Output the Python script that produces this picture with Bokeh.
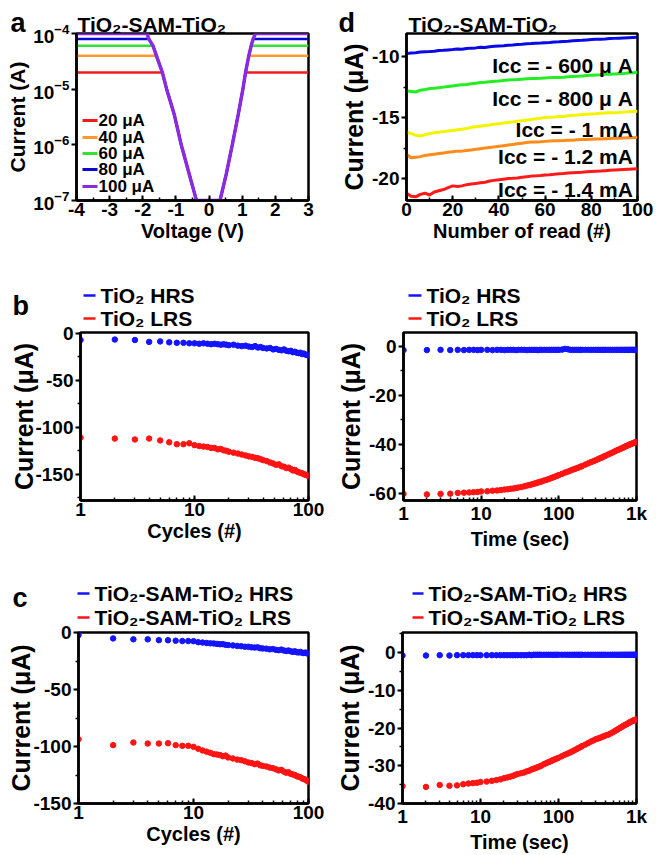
from bokeh.plotting import figure
from bokeh.models import (Label, BoxAnnotation, Range1d, GridBox,
                          SingleIntervalTicker, CustomJSTickFormatter)
from bokeh.layouts import row, column
from bokeh.core.properties import value
from bokeh.embed import file_html
from bokeh.resources import INLINE

FONT = "Liberation Sans"

# ---------------- Panel a data ----------------
CC_LEVELS = [2e-5, 4e-5, 6e-5, 8e-5, 1e-4]
CC_NAMES = ["20 μA", "40 μA", "60 μA", "80 μA", "100 μA"]
CC_COLORS = ["#ee1c1c", "#ff9a2e", "#33e033", "#0a0ad0", "#8a2be2"]
V_LEFT = [-1.87, -1.82, -1.69, -1.59, -1.41, -1.28, -1.05, -0.84, -0.60, -0.38]
I_LEFT = [1e-4, 8e-5, 6e-5, 4e-5, 2e-5, 1e-5, 3.5e-6, 1e-6, 3e-7, 1e-7]
V_RIGHT = [0.33, 0.52, 0.70, 0.88, 1.02, 1.10, 1.20, 1.27, 1.33, 1.40]
I_RIGHT = [1e-7, 3e-7, 1e-6, 3.5e-6, 1e-5, 2e-5, 4e-5, 6e-5, 8e-5, 1e-4]
V_START, V_END = -4, 3

# ---------------- Panel d data ----------------
READS = list(range(0, 101, 2))
D_NAMES = ["Icc = - 600 μ A", "Icc = - 800 μ A", "Icc = - 1 mA", "Icc = - 1.2 mA", "Icc = - 1.4 mA"]
D_COLORS = ["#0a0ae6", "#22ee22", "#f4f400", "#ff8c1a", "#ff1a1a"]
D_LABEL_Y = [-10.7, -13.4, -15.95, -18.2, -20.9]
D_BLUE = [-9.75, -9.7, -9.68, -9.62, -9.6, -9.58, -9.55, -9.5, -9.48, -9.45, -9.42,
          -9.38, -9.4, -9.33, -9.3, -9.28, -9.22, -9.25, -9.18, -9.15, -9.12,
          -9.1, -9.06, -9.04, -9.0, -8.98, -8.95, -8.93, -8.9, -8.88, -8.85,
          -8.83, -8.8, -8.78, -8.75, -8.74, -8.7, -8.68, -8.66, -8.63, -8.6,
          -8.58, -8.57, -8.55, -8.52, -8.5, -8.48, -8.46, -8.44, -8.42, -8.4]
D_GREEN = [-12.8, -12.85, -12.9, -12.75, -12.7, -12.62, -12.6, -12.55, -12.5, -12.45, -12.4,
           -12.35, -12.3, -12.28, -12.22, -12.18, -12.12, -12.1, -12.05, -12.02, -12.0,
           -11.95, -11.92, -11.9, -11.88, -11.85, -11.82, -11.8, -11.8, -11.78, -11.75,
           -11.72, -11.7, -11.7, -11.68, -11.65, -11.62, -11.6, -11.58, -11.55, -11.52,
           -11.5, -11.48, -11.45, -11.45, -11.42, -11.4, -11.38, -11.35, -11.32, -11.3]
D_YELLOW = [-16.2, -16.3, -16.45, -16.5, -16.4, -16.3, -16.25, -16.2, -16.15, -16.1, -16.05,
            -16.0, -15.95, -15.9, -15.8, -15.75, -15.7, -15.65, -15.6, -15.55, -15.5,
            -15.45, -15.4, -15.35, -15.3, -15.25, -15.2, -15.15, -15.1, -15.05, -15.0,
            -14.98, -14.95, -14.9, -14.9, -14.85, -14.8, -14.78, -14.75, -14.72, -14.7,
            -14.68, -14.65, -14.62, -14.6, -14.6, -14.58, -14.55, -14.52, -14.5, -14.48]
D_ORANGE = [-18.0, -18.3, -18.25, -18.2, -18.1, -18.05, -18.0, -17.95, -17.9, -17.85, -17.8,
            -17.75, -17.75, -17.7, -17.65, -17.6, -17.55, -17.5, -17.45, -17.4, -17.35,
            -17.3, -17.25, -17.2, -17.15, -17.1, -17.05, -17.0, -17.0, -16.98, -16.95,
            -16.92, -16.9, -16.9, -16.88, -16.85, -16.85, -16.82, -16.8, -16.8, -16.78,
            -16.76, -16.75, -16.73, -16.72, -16.7, -16.7, -16.68, -16.66, -16.65, -16.62]
D_RED = [-21.2, -21.45, -21.5, -21.3, -21.2, -21.35, -21.1, -21.0, -20.9, -20.75, -20.6,
         -20.65, -20.6, -20.5, -20.45, -20.4, -20.35, -20.3, -20.2, -20.15, -20.1,
         -20.05, -20.0, -19.98, -19.95, -19.9, -19.85, -19.8, -19.78, -19.75, -19.7,
         -19.68, -19.65, -19.6, -19.58, -19.55, -19.52, -19.5, -19.48, -19.45, -19.42,
         -19.4, -19.38, -19.35, -19.32, -19.3, -19.28, -19.26, -19.24, -19.22, -19.2]

# ---------------- Panels b, c (cycles) ----------------
CYCLES = [1, 2, 3, 4, 5, 6, 7, 8, 9, 10, 11, 12, 13, 14, 15, 16, 17, 18, 19, 20,
          22, 24, 26, 28, 30, 32, 34, 36, 38, 40,
          43, 46, 49, 52, 55, 58, 61, 64, 67, 70, 73, 76, 79, 82, 85, 88, 91, 94, 97, 100]
B_CYC_HRS = [-7, -6.5, -7, -9, -8.5, -9.5, -10, -10, -10.5, -10.5, -11, -10.5, -11, -11.5, -11, -11.5, -12, -11.5, -12, -12.5,
             -12, -13, -13.5, -13, -14, -14.5, -13.5, -15, -14.5, -15.5,
             -16, -15.5, -17, -16.5, -17.5, -18, -17, -18.5, -19, -18.5, -20, -19.5, -20.5, -21, -20.5, -22, -21.5, -22.5, -23, -23.5]
B_CYC_LRS = [-111, -112, -113, -112, -114, -116, -118, -118, -117, -119, -120, -120.5, -121, -122, -122, -123.5, -123, -124.5, -125, -126,
             -127, -128, -129, -130, -131, -131.5, -132.5, -133, -134, -135,
             -136, -137.5, -138.5, -140, -139.5, -141.5, -142, -143.5, -143, -144.5, -146, -145.5, -147, -148, -148.5, -149, -150, -150.5, -151, -152]
C_CYC_HRS = [-2.3, -5.2, -6, -6, -6.7, -6.8, -7.2, -7.5, -7.5, -7.6, -8.5, -8.8, -9.2, -9.5, -9.6, -10, -10.3, -10.2, -10.8, -11,
             -11.3, -11.8, -12, -12.5, -12.5, -13, -13.2, -13, -13.8, -14,
             -14.2, -14.8, -14.5, -15.2, -15.5, -15, -15.8, -16.2, -15.8, -16.5, -17, -16.5, -17.3, -17.5, -17, -17.8, -18, -17.6, -18.3, -18.5]
C_CYC_LRS = [-93.6, -98.8, -96.5, -97.4, -97.4, -97.1, -98.8, -99.4, -99.4, -100.3, -102, -103.5, -104.5, -105.5, -106.7, -107, -107.5, -108.5, -108, -109.6,
             -110.5, -111.5, -112, -113, -114, -114.5, -115.5, -115, -116.5, -117,
             -117.5, -118.5, -119, -120, -121, -120.5, -122, -123, -122.5, -124, -124.5, -125, -126, -126.5, -127, -128, -128.5, -129, -130, -131]

# ---------------- Panels b, c (retention time) ----------------
TIMES = [1, 2, 3, 4, 5, 6, 7, 8, 9, 10, 12, 14, 16, 18, 20, 22, 24, 26, 28, 30,
         33, 36, 39, 42, 45, 48, 51, 54, 57, 60, 65, 70, 75, 80, 85, 90, 95, 100,
         110, 120, 130, 140, 150, 160, 170, 180, 190, 200,
         220, 240, 260, 280, 300, 320, 340, 360, 380, 400,
         430, 460, 490, 520, 550, 580, 610, 640, 670, 700, 730, 760, 790, 820, 850, 880, 910, 940, 970, 1000]
B_T_HRS = [-1.5, -1.5, -1.4, -1.5, -1.4, -1.5, -1.4, -1.4, -1.5, -1.4, -1.4, -1.5, -1.4, -1.4, -1.5, -1.4, -1.4, -1.4, -1.5, -1.4,
           -1.4, -1.4, -1.5, -1.4, -1.4, -1.4, -1.4, -1.5, -1.4, -1.4, -1.4, -1.4, -1.4, -1.4, -1.4, -1.4, -1.4, -1.4,
           -1.3, -1.0, -1.1, -1.4, -1.4, -1.4, -1.4, -1.4, -1.4, -1.4,
           -1.4, -1.4, -1.4, -1.4, -1.4, -1.4, -1.4, -1.4, -1.4, -1.4,
           -1.4, -1.4, -1.4, -1.4, -1.4, -1.4, -1.4, -1.4, -1.4, -1.4, -1.4, -1.4, -1.4, -1.4, -1.4, -1.4, -1.4, -1.4, -1.4, -1.4]
B_T_LRS = [-60.3, -60.5, -60.3, -60.2, -59.9, -59.8, -59.7, -59.6, -59.5, -59.3, -59.2, -59.0, -58.9, -58.7, -58.5, -58.4, -58.2, -58.1, -57.9, -57.7,
           -57.5, -57.2, -56.9, -56.7, -56.4, -56.1, -55.9, -55.6, -55.4, -55.2, -54.8, -54.5, -54.2, -53.8, -53.5, -53.2, -52.9, -52.6,
           -52.1, -51.6, -51.2, -50.8, -50.4, -50.1, -49.8, -49.5, -49.2, -48.9,
           -48.3, -47.8, -47.3, -46.9, -46.5, -46.1, -45.7, -45.4, -45.0, -44.7,
           -44.2, -43.8, -43.4, -43.0, -42.6, -42.3, -42.0, -41.7, -41.4, -41.1, -40.8, -40.6, -40.3, -40.1, -39.9, -39.7, -39.5, -39.3, -39.2, -39.1]
C_T_HRS = [-0.8, -0.8, -0.7, -0.8, -0.7, -0.7, -0.7, -0.7, -0.7, -0.7, -0.7, -0.7, -0.7, -0.7, -0.7, -0.7, -0.7, -0.7, -0.7, -0.7,
           -0.7, -0.7, -0.7, -0.6, -0.7, -0.6, -0.6, -0.6, -0.6, -0.6, -0.6, -0.6, -0.6, -0.6, -0.6, -0.6, -0.6, -0.6,
           -0.6, -0.6, -0.6, -0.6, -0.6, -0.6, -0.6, -0.6, -0.6, -0.6,
           -0.6, -0.6, -0.6, -0.6, -0.6, -0.6, -0.6, -0.6, -0.6, -0.6,
           -0.6, -0.6, -0.6, -0.6, -0.6, -0.6, -0.6, -0.6, -0.6, -0.6, -0.6, -0.6, -0.6, -0.6, -0.6, -0.6, -0.6, -0.6, -0.6, -0.6]
C_T_LRS = [-35.4, -35.6, -35.1, -35.3, -35.2, -34.9, -34.7, -34.6, -34.5, -34.3, -34.2, -34.0, -33.8, -33.6, -33.3, -33.1, -32.9, -32.7, -32.4, -32.2,
           -32.0, -31.8, -31.5, -31.3, -31.0, -30.8, -30.6, -30.4, -30.2, -30.0, -29.6, -29.3, -29.0, -28.8, -28.5, -28.3, -28.1, -27.9,
           -27.5, -27.1, -26.8, -26.5, -26.2, -25.9, -25.6, -25.3, -25.1, -24.8,
           -24.4, -24.0, -23.6, -23.3, -23.0, -22.8, -22.6, -22.4, -22.2, -22.0,
           -21.8, -21.5, -21.2, -20.9, -20.6, -20.3, -20.0, -19.8, -19.5, -19.3, -19.1, -18.9, -18.7, -18.5, -18.3, -18.2, -18.0, -17.9, -17.8, -17.7]

BLUE = "#1414ff"
RED = "#ff1414"
TI = "TiO₂"
TST = "TiO₂-SAM-TiO₂"

plain_fmt = CustomJSTickFormatter(code="return tick.toString();")
log_fmt = CustomJSTickFormatter(code="return tick >= 1000 ? (tick/1000) + 'k' : tick.toString();")


def base_fig(w, h, bl, br, bt, bb, xr, yr, xtype="linear", ytype="linear",
             ylab_size="25px", ylab_standoff=1):
    p = figure(width=w, height=h, x_range=xr, y_range=yr, x_axis_type=xtype, y_axis_type=ytype,
               output_backend="svg", toolbar_location=None,
               min_border_left=bl, min_border_right=br, min_border_top=bt, min_border_bottom=bb)
    p.title.visible = False
    p.grid.visible = False
    p.outline_line_color = "black"
    p.outline_line_width = 2.5
    p.outline_line_alpha = 1
    p.background_fill_color = "white"
    p.border_fill_color = "white"
    for ax in p.axis:
        ax.axis_line_width = 2.5
        ax.axis_line_color = "black"
        ax.major_label_text_font = FONT
        ax.major_label_text_font_size = "19px"
        ax.major_label_text_font_style = "bold"
        ax.major_label_text_color = "black"
        ax.axis_label_text_font = FONT
        ax.axis_label_text_font_size = "20px"
        ax.axis_label_text_font_style = "bold"
        ax.axis_label_text_color = "black"
        ax.major_tick_line_width = 2
        ax.minor_tick_line_width = 1.5
        ax.major_label_standoff = 2
        ax.axis_label_standoff = 1
    for ax in p.xaxis:
        ax.major_tick_in = 5
        ax.major_tick_out = 0
        ax.minor_tick_in = 3
        ax.minor_tick_out = 0
    for ax in p.yaxis:
        ax.axis_label_text_font_size = ylab_size
        ax.axis_label_standoff = ylab_standoff
        ax.major_tick_in = 0
        ax.major_tick_out = 5
        ax.minor_tick_in = 0
        ax.minor_tick_out = 3
    return p


# ---------------- Panel a ----------------
pa = base_fig(330, 258, 76, 22, 33, 55, Range1d(-4, 3), Range1d(1e-7, 1e-4), ytype="log", ylab_size="21px")
pa.xaxis.ticker = SingleIntervalTicker(interval=1, num_minor_ticks=2)
pa.xaxis.formatter = plain_fmt
pa.xaxis.axis_label = "Voltage (V)"
pa.yaxis.axis_label = "Current (A)"
pa.yaxis.minor_tick_out = 0
for cc, col in zip(CC_LEVELS, CC_COLORS):
    xs = [V_START] + [v for v, i in zip(V_LEFT, I_LEFT) if i <= cc] + \
         [v for v, i in zip(V_RIGHT, I_RIGHT) if i <= cc] + [V_END]
    ys = [cc] + [i for i in I_LEFT if i <= cc] + [i for i in I_RIGHT if i <= cc] + [cc]
    pa.line(xs, ys, line_color=col, line_width=3.5 if cc == CC_LEVELS[-1] else 2.5)
leg_y = [80, 63, 47, 31, 14]
for yy, n, c in zip(leg_y, CC_NAMES, CC_COLORS):
    pa.add_layout(BoxAnnotation(left=6, right=21, bottom=yy - 1.5, top=yy + 1.5,
                                left_units="screen", right_units="screen",
                                bottom_units="screen", top_units="screen",
                                fill_color=c, fill_alpha=1, line_alpha=0))
    pa.add_layout(Label(x=22, y=yy, x_units="screen", y_units="screen", text=n,
                        text_font=FONT, text_font_size="17px", text_font_style="bold",
                        text_color="black", text_baseline="middle"))

# ---------------- Panel d ----------------
pd_ = base_fig(326, 258, 76, 19, 32, 58, Range1d(0, 100), Range1d(-21.8, -8.1))
pd_.xaxis.ticker = SingleIntervalTicker(interval=20, num_minor_ticks=2)
pd_.yaxis.ticker = SingleIntervalTicker(interval=5, num_minor_ticks=2)
pd_.xaxis.formatter = plain_fmt
pd_.yaxis.formatter = plain_fmt
pd_.xaxis.axis_label = "Number of read (#)"
pd_.yaxis.axis_label = "Current (μA)"
for ys, col in zip([D_BLUE, D_GREEN, D_YELLOW, D_ORANGE, D_RED], D_COLORS):
    pd_.line(READS, ys, line_color=col, line_width=3)
for n, yy in zip(D_NAMES, D_LABEL_Y):
    pd_.add_layout(Label(x=98, y=yy, text=n, text_font=FONT, text_font_size="21px",
                         text_font_style="bold", text_color="black",
                         text_align="right", text_baseline="middle"))

# ---------------- Panel b left ----------------
pbl = base_fig(330, 300, 80, 22, 74, 56, Range1d(1, 100), Range1d(-178, 1), xtype="log", ylab_standoff=-6)
pbl.xaxis.formatter = log_fmt
pbl.yaxis.formatter = plain_fmt
pbl.yaxis.ticker = SingleIntervalTicker(interval=50, num_minor_ticks=2)
pbl.xaxis.axis_label = "Cycles (#)"
pbl.yaxis.axis_label = "Current (μA)"
pbl.scatter(CYCLES, B_CYC_HRS, size=5.5, color=BLUE)
pbl.scatter(CYCLES, B_CYC_LRS, size=5.5, color=RED)

# ---------------- Panel b right ----------------
pbr = base_fig(326, 300, 73, 20, 74, 58, Range1d(1, 1000), Range1d(-63, 5.7), xtype="log")
pbr.xaxis.formatter = log_fmt
pbr.yaxis.formatter = plain_fmt
pbr.yaxis.ticker = SingleIntervalTicker(interval=20, num_minor_ticks=2)
pbr.xaxis.axis_label = "Time (sec)"
pbr.yaxis.axis_label = "Current (μA)"
pbr.scatter(TIMES, B_T_HRS, size=5.5, color=BLUE)
pbr.scatter(TIMES, B_T_LRS, size=5.5, color=RED)

# ---------------- Panel c left ----------------
pcl = base_fig(330, 297, 78, 22, 74, 50, Range1d(1, 100), Range1d(-150, 0), xtype="log", ylab_standoff=-5)
pcl.xaxis.formatter = log_fmt
pcl.yaxis.formatter = plain_fmt
pcl.yaxis.ticker = SingleIntervalTicker(interval=50, num_minor_ticks=2)
pcl.xaxis.axis_label = "Cycles (#)"
pcl.yaxis.axis_label = "Current (μA)"
pcl.scatter(CYCLES, C_CYC_HRS, size=5.5, color=BLUE)
pcl.scatter(CYCLES, C_CYC_LRS, size=5.5, color=RED)

# ---------------- Panel c right ----------------
pcr = base_fig(326, 297, 72, 20, 74, 52, Range1d(1, 1000), Range1d(-40, 5.3), xtype="log")
pcr.xaxis.formatter = log_fmt
pcr.yaxis.formatter = plain_fmt
pcr.yaxis.ticker = SingleIntervalTicker(interval=10, num_minor_ticks=2)
pcr.xaxis.axis_label = "Time (sec)"
pcr.yaxis.axis_label = "Current (μA)"
pcr.scatter(TIMES, C_T_HRS, size=5.5, color=BLUE)
pcr.scatter(TIMES, C_T_LRS, size=5.5, color=RED)

# ---------------- Transparent overlay for panel letters, titles, outside legends ----------------
ov = figure(width=656, height=855, x_range=Range1d(0, 656), y_range=Range1d(855, 0),
            x_axis_location=None, y_axis_location=None, output_backend="svg",
            toolbar_location=None, min_border=0)
ov.title.visible = False
ov.grid.visible = False
ov.outline_line_alpha = 0
ov.background_fill_alpha = 0
ov.border_fill_alpha = 0

LETTERS = ["a", "d", "b", "c"]
LETTER_X = [10, 338, 12, 12]
LETTER_Y = [22, 22, 305, 597]
ov.text(x=LETTER_X, y=LETTER_Y, text=LETTERS, text_font=value(FONT), text_font_size="27px",
        text_font_style="bold", text_color="black", text_baseline="alphabetic")

ov.text(x=[77, 408], y=[24, 24], text=[TST, TST], text_font=value(FONT), text_font_size="21px",
        text_font_style="bold", text_color="black", text_baseline="alphabetic")

LEG_TEXT = [TI + " HRS", TI + " LRS", TI + " HRS", TI + " LRS",
            TST + " HRS", TST + " LRS", TST + " HRS", TST + " LRS"]
LEG_COL = [BLUE, RED] * 4
LEG_X0 = [83, 83, 408, 408, 77, 77, 412, 412]
LEG_X1 = [95, 95, 421, 421, 89, 89, 423, 423]
LEG_YC = [295, 318, 295, 318, 593, 617, 593, 617]
ov.segment(x0=LEG_X0, y0=LEG_YC, x1=LEG_X1, y1=LEG_YC, line_color=LEG_COL, line_width=2.5)
ov.text(x=[x + 5 for x in LEG_X1], y=LEG_YC, text=LEG_TEXT, text_font=value(FONT),
        text_font_size="21px", text_font_style="bold", text_color="black", text_baseline="middle")

panels = column(row(pa, pd_), row(pbl, pbr), row(pcl, pcr))
layout = GridBox(children=[(panels, 0, 0), (ov, 0, 0)])
open("out.html", "w").write(file_html(layout, INLINE))
